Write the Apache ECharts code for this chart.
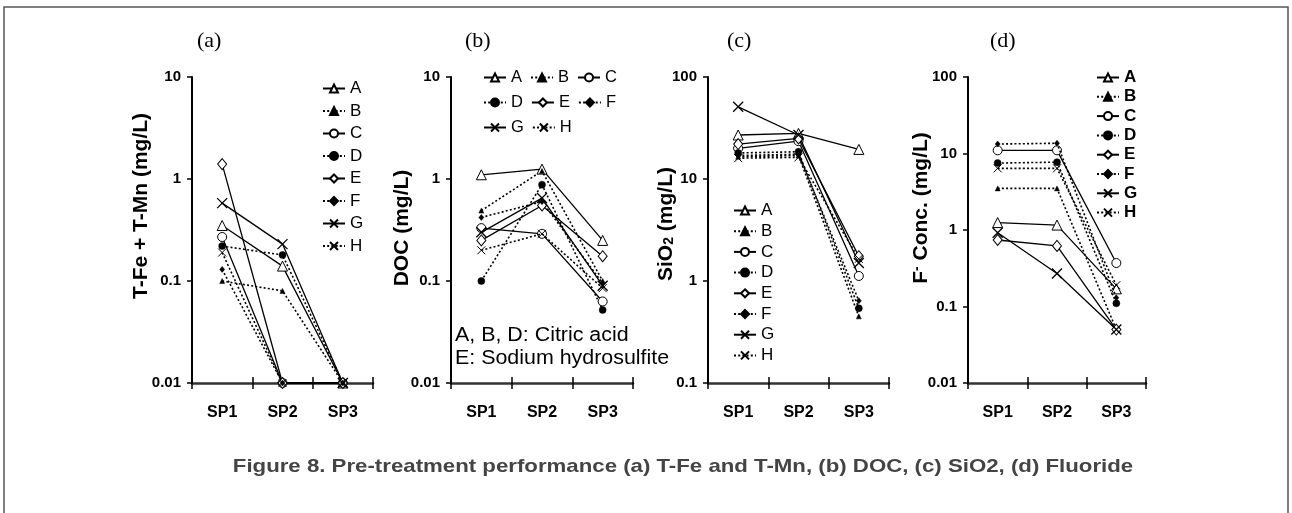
<!DOCTYPE html>
<html><head><meta charset="utf-8">
<script src="https://cdn.jsdelivr.net/npm/echarts@6/dist/echarts.min.js"></script>
<style>html,body{margin:0;padding:0;background:#fff}#c{width:1292px;height:513px}</style>
</head><body><div id="c"></div>
<script>
// ---------- DATA ----------
const categories = ['SP1', 'SP2', 'SP3'];
const seriesNames = ['A', 'B', 'C', 'D', 'E', 'F', 'G', 'H'];
// (a) T-Fe + T-Mn (mg/L), columns SP1..SP3
const feMnA = [0.35, 0.14, 0.01];
const feMnB = [0.10, 0.08, 0.01];
const feMnC = [0.27, 0.01, 0.01];
const feMnD = [0.22, 0.18, 0.01];
const feMnE = [1.4, 0.01, 0.01];
const feMnF = [0.13, 0.01, 0.01];
const feMnG = [0.58, 0.23, 0.01];
const feMnH = [0.19, 0.01, 0.01];
// (b) DOC (mg/L)
const docA = [1.1, 1.25, 0.25];
const docB = [0.49, 1.2, 0.10];
const docC = [0.33, 0.29, 0.063];
const docD = [0.10, 0.88, 0.052];
const docE = [0.25, 0.55, 0.175];
const docF = [0.42, 0.60, 0.095];
const docG = [0.30, 0.65, 0.09];
const docH = [0.20, 0.29, 0.085];
// (c) SiO2 (mg/L)
const sioA = [27, 28, 19.5];
const sioB = [16.5, 17, 0.45];
const sioC = [20, 23.5, 1.12];
const sioD = [18, 18.5, 0.54];
const sioE = [22, 25, 1.75];
const sioF = [17, 17.5, 0.64];
const sioG = [51, 27, 1.5];
const sioH = [16, 16.3, 1.65];
// (d) F- Conc. (mg/L)
const fluA = [1.25, 1.16, 0.17];
const fluB = [3.5, 3.5, 0.05];
const fluC = [11, 11, 0.37];
const fluD = [7.5, 7.7, 0.11];
const fluE = [0.74, 0.62, 0.05];
const fluF = [13.3, 13.6, 0.13];
const fluG = [0.92, 0.27, 0.05];
const fluH = [6.4, 6.4, 0.19];
const yRanges = [[0.01, 10], [0.01, 10], [0.1, 100], [0.01, 100]];
// --------------------------

const panelData = [
  [feMnA, feMnB, feMnC, feMnD, feMnE, feMnF, feMnG, feMnH],
  [docA, docB, docC, docD, docE, docF, docG, docH],
  [sioA, sioB, sioC, sioD, sioE, sioF, sioG, sioH],
  [fluA, fluB, fluC, fluD, fluE, fluF, fluG, fluH]
];

const FONT = 'Liberation Sans, Arial, sans-serif';
const X_PATH = 'path://M0,0L10,10M10,0L0,10';
const solid = { color: '#000', width: 1.3, type: 'solid' };
const dotted = { color: '#000', width: 1.6, type: [2, 2.2] };
const openStyle = { color: '#fff', borderColor: '#000', borderWidth: 1 };
const fillStyle = { color: '#000', borderColor: '#000', borderWidth: 0.5 };
const xStyle = { color: '#000', borderColor: '#000', borderWidth: 1.3 };
const styles = {
  A: { symbol: 'triangle', symbolSize: 10, itemStyle: openStyle, lineStyle: solid },
  B: { symbol: 'triangle', symbolSize: 5, itemStyle: fillStyle, lineStyle: dotted },
  C: { symbol: 'circle', symbolSize: 9, itemStyle: openStyle, lineStyle: solid },
  D: { symbol: 'circle', symbolSize: 7, itemStyle: fillStyle, lineStyle: dotted },
  E: { symbol: 'diamond', symbolSize: [9, 11], itemStyle: openStyle, lineStyle: solid },
  F: { symbol: 'diamond', symbolSize: [5, 6], itemStyle: fillStyle, lineStyle: dotted },
  G: { symbol: X_PATH, symbolSize: 10, itemStyle: xStyle, lineStyle: solid },
  H: { symbol: X_PATH, symbolSize: 8, itemStyle: { color: '#000', borderColor: '#000', borderWidth: 1 }, lineStyle: dotted }
};

const grids = [
  { left: 192, top: 77, width: 181, height: 306 },
  { left: 451, top: 77, width: 182, height: 306 },
  { left: 708, top: 77, width: 181, height: 306 },
  { left: 968, top: 77, width: 178, height: 306 }
];

const xAxes = [], yAxes = [], series = [];
grids.forEach((g, gi) => {
  xAxes.push({
    type: 'category', gridIndex: gi, data: categories, boundaryGap: true, position: 'bottom',
    axisLine: { show: true, onZero: false, lineStyle: { color: '#333', width: 2.5 } },
    axisTick: { show: true, length: 6, lineStyle: { color: '#000', width: 1.5 } },
    axisLabel: { fontSize: 16, fontWeight: 'bold', color: '#000', margin: 22, fontFamily: FONT },
    splitLine: { show: false }
  });
  yAxes.push({
    type: 'log', logBase: 10, gridIndex: gi, min: yRanges[gi][0], max: yRanges[gi][1],
    axisLine: { show: true, lineStyle: { color: '#000', width: 2 } },
    axisTick: { show: true, length: 5, lineStyle: { color: '#000', width: 1.5 } },
    minorTick: { show: false }, splitLine: { show: false },
    axisLabel: {
      fontSize: 15, fontWeight: 'bold', color: '#000', margin: 11, fontFamily: FONT,
      formatter: v => String(Math.pow(10, Math.round(Math.log10(v))))
    }
  });
});
// secondary x axes: inward half of the crossing ticks
grids.forEach((g, gi) => {
  xAxes.push({
    type: 'category', gridIndex: gi, data: categories, boundaryGap: true, position: 'bottom',
    axisLine: { show: false },
    axisTick: { show: true, inside: true, length: 6, lineStyle: { color: '#000', width: 1.5 } },
    axisLabel: { show: false }, splitLine: { show: false }
  });
});

panelData.forEach((rows, gi) => {
  rows.forEach((vals, si) => {
    const n = seriesNames[si];
    const st = styles[n];
    series.push({
      type: 'line', name: n, xAxisIndex: gi, yAxisIndex: gi, data: vals,
      symbol: st.symbol, symbolSize: st.symbolSize, showAllSymbol: true,
      itemStyle: st.itemStyle, lineStyle: st.lineStyle, clip: false,
      z: si < 4 ? 3 : 4, emphasis: { disabled: true }, silent: true
    });
  });
});

const legendBase = {
  padding: 0, itemWidth: 22, itemHeight: 10, selectedMode: false, data: seriesNames
};
const legends = [
  Object.assign({}, legendBase, { orient: 'vertical', left: 322, top: 80, itemGap: 5.5,
    textStyle: { fontSize: 17, color: '#000', fontFamily: FONT, lineHeight: 16 } }),
  Object.assign({}, legendBase, { orient: 'horizontal', left: 483, top: 69, width: 145, itemGap: 8,
    textStyle: { fontSize: 16.5, color: '#000', fontFamily: FONT, lineHeight: 17 } }),
  Object.assign({}, legendBase, { orient: 'vertical', left: 733, top: 202, itemGap: 3.7,
    textStyle: { fontSize: 17, color: '#000', fontFamily: FONT, lineHeight: 16 } }),
  Object.assign({}, legendBase, { orient: 'vertical', left: 1096, top: 69, itemGap: 2.3,
    textStyle: { fontSize: 17, fontWeight: 'bold', color: '#000', fontFamily: FONT, lineHeight: 16 } })
];

function vtitle(x, y, text, rich) {
  return {
    type: 'text', x: x, y: y, rotation: Math.PI / 2, silent: true,
    style: { text: text, fill: '#000', font: 'bold 21px ' + FONT, align: 'center', verticalAlign: 'middle', rich: rich || {} }
  };
}
function ptitle(x, text) {
  return { type: 'text', x: x, y: 41, silent: true,
    style: { text: text, fill: '#000', font: '22px Liberation Serif, Times New Roman, serif', align: 'left', verticalAlign: 'middle' } };
}

const graphic = [
  { type: 'rect', silent: true, shape: { x: 4, y: 7, width: 1284, height: 560 }, style: { fill: 'none', stroke: '#555', lineWidth: 1.5 } },
  ptitle(197, '(a)'), ptitle(465, '(b)'), ptitle(727, '(c)'), ptitle(990, '(d)'),
  vtitle(141, 206, 'T-Fe + T-Mn (mg/L)'),
  vtitle(402, 228, 'DOC (mg/L)'),
  vtitle(666, 224, 'SiO{sub|2} (mg/L)', { sub: { font: 'bold 14px ' + FONT, fill: '#000', verticalAlign: 'bottom' } }),
  vtitle(921, 208, 'F{sup|-} Conc. (mg/L)', { sup: { font: 'bold 14px ' + FONT, fill: '#000', verticalAlign: 'top' } }),
  { type: 'text', x: 455, y: 335, scaleX: 1.07, silent: true,
    style: { text: 'A, B, D: Citric acid', fill: '#000', font: '20px ' + FONT, align: 'left', verticalAlign: 'middle' } },
  { type: 'text', x: 455, y: 358, scaleX: 1.07, silent: true,
    style: { text: 'E: Sodium hydrosulfite', fill: '#000', font: '20px ' + FONT, align: 'left', verticalAlign: 'middle' } },
  { type: 'text', x: 683, y: 467, scaleX: 1.17, silent: true,
    style: { text: 'Figure 8. Pre-treatment performance (a) T-Fe and T-Mn, (b) DOC, (c) SiO2, (d) Fluoride',
      fill: '#444', font: 'bold 19px ' + FONT, align: 'center', verticalAlign: 'middle' } }
];

const chart = echarts.init(document.getElementById('c'), null, { renderer: 'canvas' });
chart.setOption({
  animation: false,
  backgroundColor: '#fff',
  textStyle: { fontFamily: FONT },
  grid: grids,
  xAxis: xAxes,
  yAxis: yAxes,
  legend: legends,
  series: series,
  graphic: graphic
});
</script></body></html>
